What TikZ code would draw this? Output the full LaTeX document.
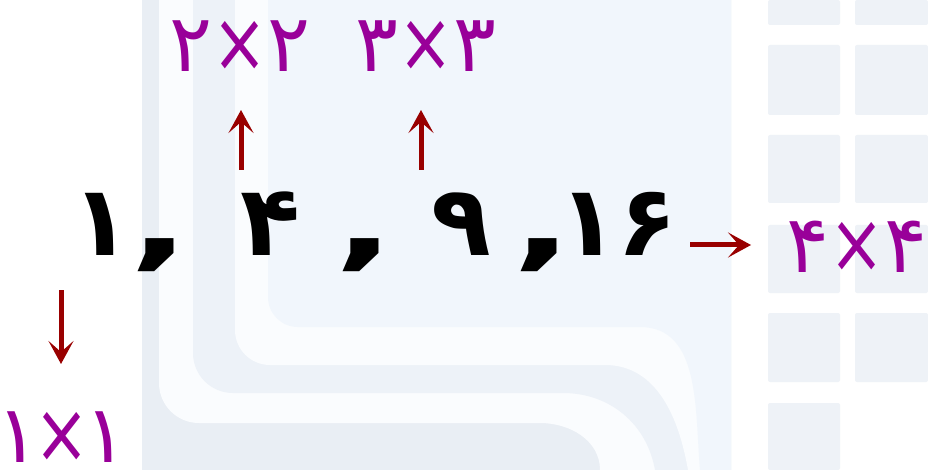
\documentclass[tikz,border=0pt]{standalone}
\usepackage{fontspec}
\usepackage{graphicx}
\newfontfamily\pfont{DejaVu Sans}
\usetikzlibrary{arrows.meta}
\definecolor{lblpurple}{HTML}{990099}
\definecolor{arrred}{HTML}{990000}
\definecolor{bgA}{HTML}{E9EEF4}
\definecolor{bgB}{HTML}{EDF2F8}
\definecolor{bgC}{HTML}{F1F6FC}
\definecolor{bgW}{HTML}{FAFCFE}
\definecolor{sq}{HTML}{EEF2F7}
\newcommand\tms[1]{\kern#1\scalebox{0.82}[1.05]{×}\kern#1}
\newcommand\bigcomma{\scalebox{1.6}[1]{,}}
\begin{document}
\begin{tikzpicture}[x=1pt,y=-1pt,
  seq/.style={inner sep=0pt,anchor=base,font=\pfont\bfseries\fontsize{98}{98}\selectfont,text=black},
  comma/.style={inner sep=0pt,anchor=base,font=\pfont\bfseries\fontsize{100}{100}\selectfont,text=black},
  lbl/.style={inner sep=0pt,anchor=base,font=\pfont\fontsize{80}{80}\selectfont,text=lblpurple},
  arr/.style={draw=arrred,line width=5pt,-{Stealth[length=23pt,width=25pt,inset=11pt]}},
  tile/.style={fill=sq,rounded corners=2pt}]
\useasboundingbox (0,0) rectangle (928,470);
\fill[white] (0,0) rectangle (928,470);
% watermark background
\fill[bgA] (142,0) rectangle (731,470);
\fill[bgW] (159,0) -- (159,383) to[out=-90,in=180] (199,423) -- (540,423) to[out=0,in=90] (600,470) -- (731,470) -- (731,0) -- cycle;
\fill[bgB] (193,0) -- (193,353) to[out=-90,in=180] (233,393) -- (563,393) to[out=0,in=100] (655,470) -- (731,470) -- (731,0) -- cycle;
\fill[bgW] (235,0) -- (235,330) to[out=-90,in=180] (270,365) -- (605,365) to[out=0,in=100] (688,470) -- (731,470) -- (731,0) -- cycle;
\fill[bgC] (268,0) -- (268,297) to[out=-90,in=180] (298,327) -- (640,327) to[out=0,in=95] (700,470) -- (731,470) -- (731,0) -- cycle;
% grid tiles
\foreach \ya/\yb in {0/25,45/115,135/203,225/293,313/382}{
  \fill[tile] (768,\ya) rectangle (840,\yb);
  \fill[tile] (855,\ya) rectangle (928,\yb);}
\fill[tile] (768,403) rectangle (840,470);
% main sequence
\node[seq] (n1) at (101,255) {۱};
\node[comma] (c1) at (160,258) {\bigcomma};
\node[seq] (n4) at (270,255) {۴};
\node[comma] (c2) at (365,258) {\bigcomma};
\node[seq] (n9) at (461,255) {۹};
\node[comma] (c3) at (543,258) {\bigcomma};
\node[seq] (n16) at (618,255) {۱۶};
% labels
\node[lbl] (l2) at (240,72) {۲\tms{0pt}۲};
\node[lbl] (l3) at (426,72) {۳\tms{0pt}۳};
\node[lbl] (l4) at (857,272) {۴\tms{0pt}۴};
\node[lbl] (l1) at (62,462) {۱\tms{-5pt}۱};
% arrows
\coordinate (a1s) at (241,170);
\coordinate (a1e) at (241,110);
\coordinate (a2s) at (421,170);
\coordinate (a2e) at (421,110);
\coordinate (a3s) at (690,245);
\coordinate (a3e) at (751,245);
\coordinate (a4s) at (61,290);
\coordinate (a4e) at (61,364);
\draw[arr] (a1s) -- (a1e);
\draw[arr] (a2s) -- (a2e);
\draw[arr] (a3s) -- (a3e);
\draw[arr] (a4s) -- (a4e);
\end{tikzpicture}
\end{document}
